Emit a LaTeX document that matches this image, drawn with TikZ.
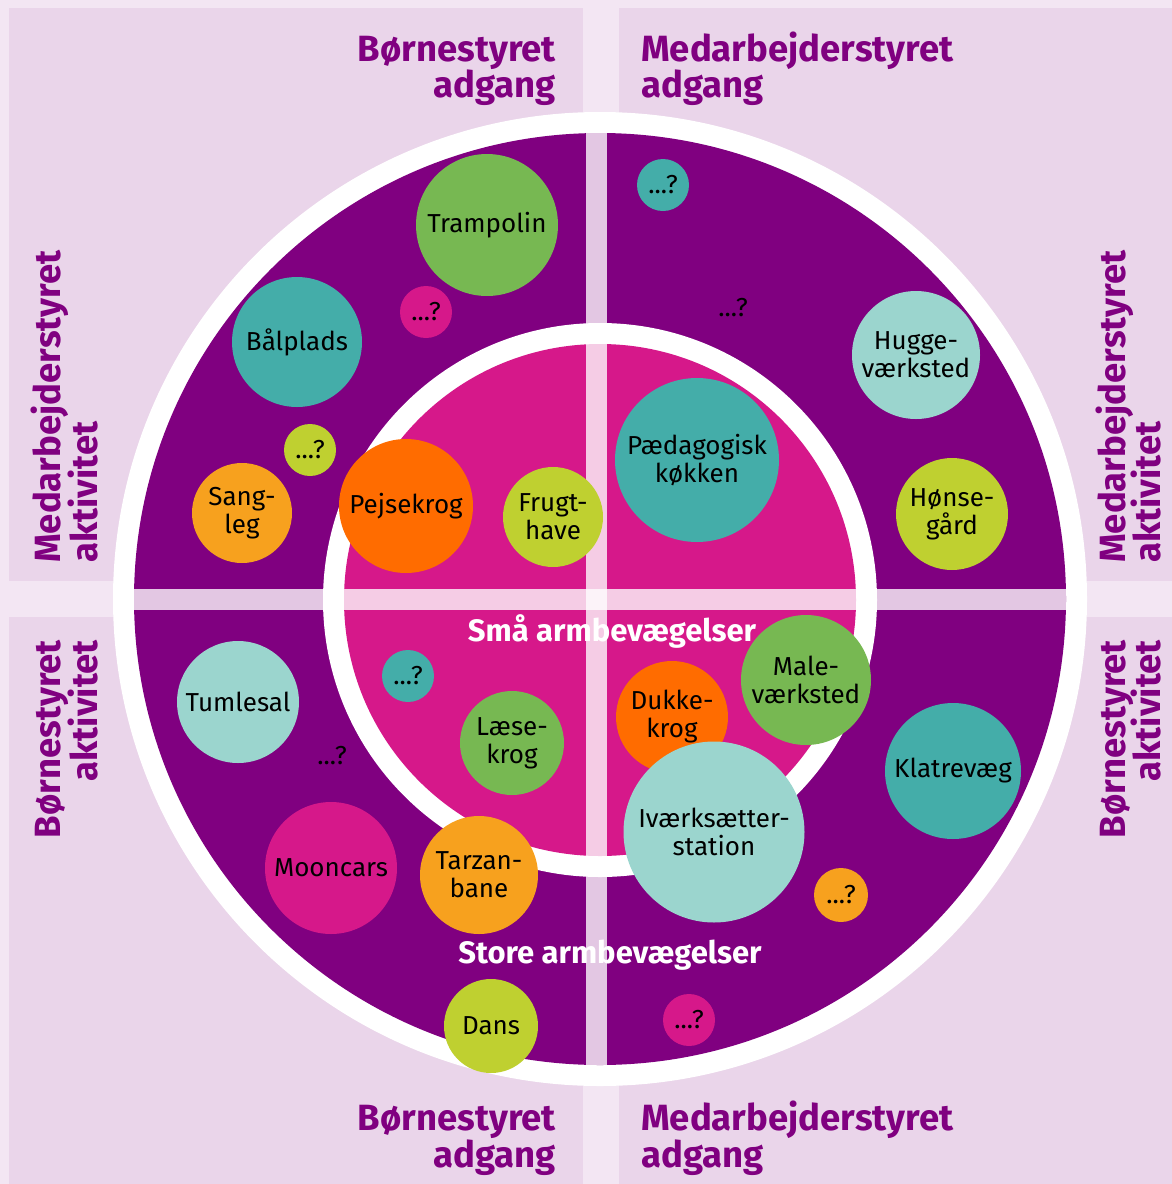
\documentclass[tikz,border=0pt]{standalone}
\usepackage{fontspec}
\setmainfont{Fira Sans}
\usepackage{tikz}

\definecolor{bgpale}{HTML}{F3E6F3}
\definecolor{panel}{HTML}{EAD5EA}
\definecolor{deeppurple}{HTML}{800080}
\definecolor{magentapink}{HTML}{D6188A}
\definecolor{tealdark}{HTML}{44ADA9}
\definecolor{teallight}{HTML}{9BD5CE}
\definecolor{leafgreen}{HTML}{77B852}
\definecolor{limegreen}{HTML}{BFD030}
\definecolor{orangedark}{HTML}{FF6C00}
\definecolor{orangelight}{HTML}{F7A11E}

\newcommand{\bubfont}{\fontsize{26}{28}\selectfont}
\newcommand{\panelfont}{\fontsize{36.5}{38}\selectfont\bfseries}
\newcommand{\armfont}{\fontsize{31}{33}\selectfont\bfseries}

\begin{document}
\begin{tikzpicture}[x=1pt,y=-1pt,
	bubble/.style={circle,inner sep=0pt,align=center,text=black,font=\bubfont},
	paneltext/.style={text=deeppurple,inner sep=0pt,font=\panelfont},
	band/.style={fill=white,fill opacity=0.78}]
	
	\useasboundingbox (0,0) rectangle (1172,1184);
	\fill[bgpale] (0,0) rectangle (1172,1184);
	
	\fill[panel] (9,8) rectangle (583,581);
	\fill[panel] (619,8) rectangle (1172,581);
	\fill[panel] (9,617) rectangle (583,1184);
	\fill[panel] (619,617) rectangle (1172,1184);
	
	\fill[white] (600,599) circle[radius=487pt];
	\fill[deeppurple] (600,599) circle[radius=466pt];
	\fill[white] (600,600) circle[radius=277pt];
	\fill[magentapink] (600,600) circle[radius=256pt];
	
	\begin{scope}
		\clip (600,599) circle[radius=466pt];
		\fill[band] (586,0) rectangle (607,1184);
		\fill[band] (0,589) rectangle (1172,610);
	\end{scope}
	
	\node[paneltext,anchor=base east] (bsTopA) at (556,61) {Børnestyret};
	\node[paneltext,anchor=base east] (bsTopB) at (556,97) {adgang};
	\node[paneltext,anchor=base west] (msTopA) at (641,61) {Medarbejderstyret};
	\node[paneltext,anchor=base west] (msTopB) at (641,97) {adgang};
	\node[paneltext,anchor=base east] (bsBotA) at (556,1130) {Børnestyret};
	\node[paneltext,anchor=base east] (bsBotB) at (556,1167) {adgang};
	\node[paneltext,anchor=base west] (msBotA) at (641,1130) {Medarbejderstyret};
	\node[paneltext,anchor=base west] (msBotB) at (641,1167) {adgang};
	
	\node[paneltext,rotate=90,anchor=base west] (msLeftA) at (60,563) {Medarbejderstyret};
	\node[paneltext,rotate=90,anchor=base west] (msLeftB) at (97,563) {aktivitet};
	\node[paneltext,rotate=90,anchor=base west] (msRightA) at (1125,563) {Medarbejderstyret};
	\node[paneltext,rotate=90,anchor=base west] (msRightB) at (1160,563) {aktivitet};
	\node[paneltext,rotate=90,anchor=base east] (bsLeftA) at (60,640) {Børnestyret};
	\node[paneltext,rotate=90,anchor=base east] (bsLeftB) at (97,640) {aktivitet};
	\node[paneltext,rotate=90,anchor=base east] (bsRightA) at (1125,640) {Børnestyret};
	\node[paneltext,rotate=90,anchor=base east] (bsRightB) at (1160,640) {aktivitet};
	
	\node[text=white,font=\armfont,anchor=base] (smaa) at (612,641) {Små armbevægelser};
	\node[text=white,font=\armfont,anchor=base] (store) at (610,963) {Store armbevægelser};
	
	\node[bubble,fill=leafgreen,minimum size=142pt] (trampolin) at (487,225) {Trampolin};
	\node[bubble,fill=magentapink,minimum size=52pt] (qA) at (426,312) {...?};
	\node[bubble,fill=tealdark,minimum size=130pt] (baalplads) at (297,342) {Bålplads};
	\node[bubble,fill=limegreen,minimum size=52pt] (qB) at (310,450) {...?};
	\node[bubble,fill=orangelight,minimum size=100pt] (sangleg) at (242,513) {Sang-\\leg};
	\node[bubble,fill=orangedark,minimum size=134pt] (pejsekrog) at (406,506) {Pejsekrog};
	\node[bubble,fill=limegreen,minimum size=100pt] (frugthave) at (553,517) {Frugt-\\have};
	
	\node[bubble,fill=tealdark,minimum size=52pt] (qC) at (663,185) {...?};
	\node[text=black,font=\bubfont] (qD) at (733,308) {...?};
	\node[bubble,fill=teallight,minimum size=128pt] (hugge) at (916,355) {Hugge-\\værksted};
	\node[bubble,fill=tealdark,minimum size=164pt] (paedagogisk) at (697,460) {Pædagogisk\\køkken};
	\node[bubble,fill=limegreen,minimum size=112pt] (hoense) at (952,514) {Hønse-\\gård};
	
	\node[bubble,fill=teallight,minimum size=122pt] (tumlesal) at (238,702) {Tumlesal};
	\node[bubble,fill=tealdark,minimum size=52pt] (qE) at (408,676) {...?};
	\node[text=black,font=\bubfont] (qF) at (332,756) {...?};
	\node[bubble,fill=leafgreen,minimum size=104pt] (laesekrog) at (512,743) {Læse-\\krog};
	\node[bubble,fill=magentapink,minimum size=132pt] (mooncars) at (331,868) {Mooncars};
	\node[bubble,fill=orangelight,minimum size=118pt] (tarzan) at (479,875) {Tarzan-\\bane};
	\node[bubble,fill=limegreen,minimum size=94pt] (dans) at (491,1026) {Dans};
	
	\node[bubble,fill=orangedark,minimum size=112pt] (dukkekrog) at (672,717) {Dukke-\\krog};
	\node[bubble,fill=leafgreen,minimum size=130pt] (male) at (806,680) {Male-\\værksted};
	\node[bubble,fill=teallight,minimum size=181pt] (ivaerk) at (714,832) {Iværksætter-\\station};
	\node[bubble,fill=tealdark,minimum size=136pt] (klatre) at (953,771) {Klatrevæg};
	\node[bubble,fill=orangelight,minimum size=54pt] (qG) at (841,895) {...?};
	\node[bubble,fill=magentapink,minimum size=52pt] (qH) at (689,1020) {...?};
\end{tikzpicture}
\end{document}
